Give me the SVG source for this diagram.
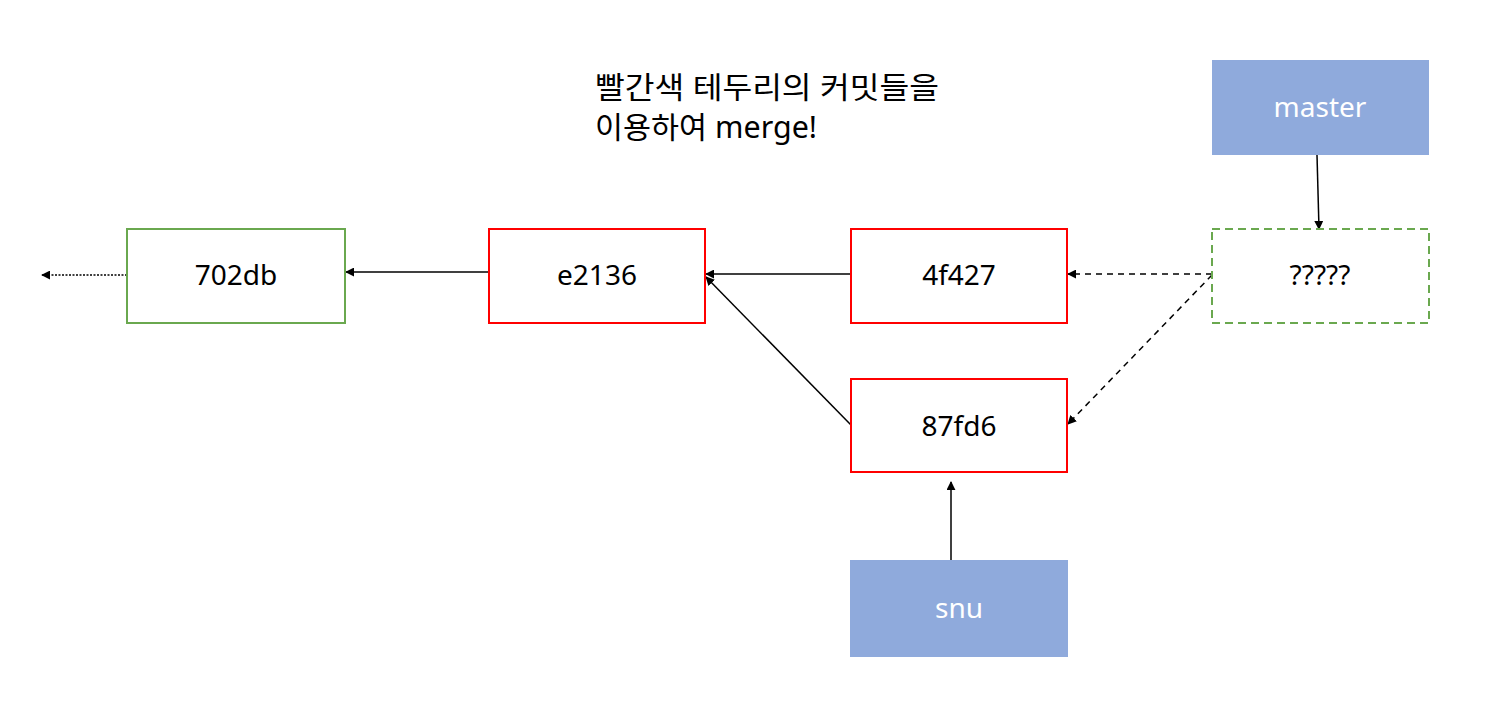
<svg xmlns="http://www.w3.org/2000/svg" width="1488" height="710" viewBox="0 0 1488 710">
<style>
text{font-family:"Noto Sans","Noto Sans CJK KR",sans-serif;}
.lbl{font-size:28px;fill:#000;text-anchor:middle;dominant-baseline:central;}
.wlbl{font-size:28px;fill:#fff;text-anchor:middle;dominant-baseline:central;}
.red{fill:#fff;stroke:#ff0000;stroke-width:2;}
.green{fill:#fff;stroke:#6aa84f;stroke-width:2;}
.gdash{fill:#fff;stroke:#6aa84f;stroke-width:2;stroke-dasharray:8 5;}
.blue{fill:#8faadc;stroke:none;}
.c{fill:none;stroke:#000;stroke-width:1.5;}
.dash{stroke-dasharray:6 5;}
.dot{stroke-dasharray:2 1.5;}
</style>
<defs>
<marker id="ah" viewBox="0 0 10 10" refX="9" refY="5" markerWidth="9" markerHeight="9" markerUnits="userSpaceOnUse" orient="auto"><path d="M0,0 L10,5 L0,10 z" fill="#000"/></marker>
</defs>
<rect width="1488" height="710" fill="#fff"/>
<g id="note">
<text x="595" y="98" font-size="30" textLength="344" lengthAdjust="spacingAndGlyphs">빨간색 테두리의 커밋들을</text>
<text x="595" y="138" font-size="30" textLength="222" lengthAdjust="spacingAndGlyphs">이용하여 merge!</text>
</g>
<g id="connectors">
<line class="c dot" x1="127" y1="275" x2="42" y2="275" marker-end="url(#ah)"/>
<line class="c" x1="489" y1="272" x2="346" y2="272" marker-end="url(#ah)"/>
<line class="c" x1="851" y1="274" x2="706" y2="274" marker-end="url(#ah)"/>
<line class="c" x1="851" y1="425" x2="706" y2="277" marker-end="url(#ah)"/>
<line class="c dash" x1="1212" y1="274" x2="1068" y2="274" marker-end="url(#ah)"/>
<line class="c dash" x1="1212" y1="275" x2="1068" y2="424" marker-end="url(#ah)"/>
<line class="c" x1="1317" y1="155" x2="1319" y2="229" marker-end="url(#ah)"/>
<line class="c" x1="951" y1="560" x2="951" y2="482" marker-end="url(#ah)"/>
</g>
<g id="n702db"><rect class="green" x="127" y="229" width="218" height="94"/><text class="lbl" x="236" y="274">702db</text></g>
<g id="ne2136"><rect class="red" x="489" y="229" width="216" height="94"/><text class="lbl" x="597" y="274">e2136</text></g>
<g id="n4f427"><rect class="red" x="851" y="229" width="216" height="94"/><text class="lbl" x="959" y="274">4f427</text></g>
<g id="n87fd6"><rect class="red" x="851" y="379" width="216" height="93"/><text class="lbl" x="959" y="425">87fd6</text></g>
<g id="nq"><rect class="gdash" x="1212" y="229" width="217" height="94"/><text class="lbl" x="1320" y="274">?????</text></g>
<g id="master"><rect class="blue" x="1212" y="60" width="217" height="95"/><text class="wlbl" x="1320" y="106">master</text></g>
<g id="snu"><rect class="blue" x="850" y="560" width="218" height="97"/><text class="wlbl" x="959" y="607">snu</text></g>
</svg>
